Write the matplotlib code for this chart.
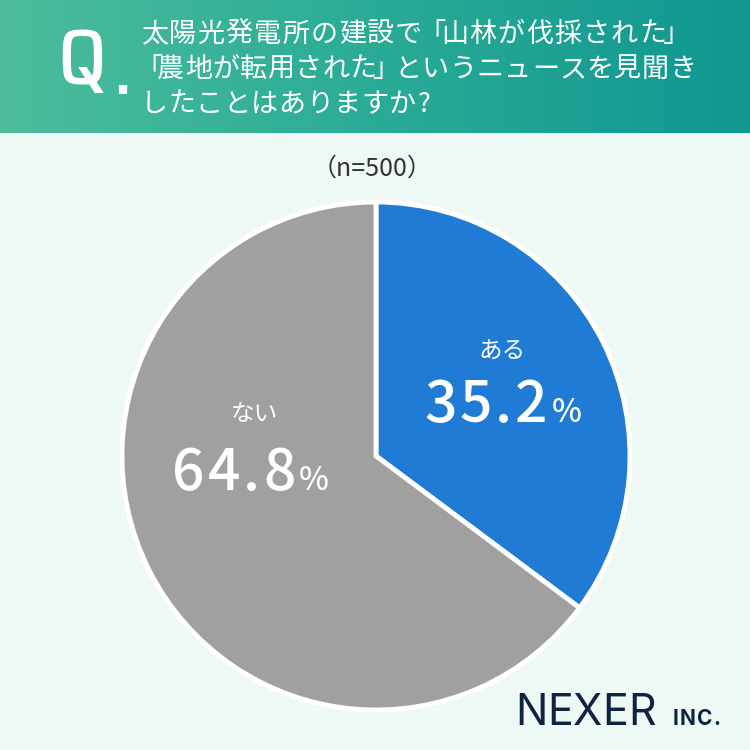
import numpy as np
import matplotlib.pyplot as plt
from matplotlib.colors import LinearSegmentedColormap

plt.rcParams['font.family'] = ['Noto Sans CJK JP', 'DejaVu Sans']

labels = ['ある', 'ない']
values = [35.2, 64.8]
colors = ['#1f7bd4', '#a0a0a0']
n_total = 500
question = ['太陽光発電所の建設で「山林が伐採された」',
            '「農地が転用された」というニュースを見聞き',
            'したことはありますか?']

W = 750
fig = plt.figure(figsize=(7.5, 7.5), dpi=100)
fig.patch.set_facecolor('#eef9f6')
renderer = fig.canvas.get_renderer()


def px(x, y):
    return x / W, 1 - y / W


def spaced(x, y, s, track, **kw):
    # draw characters one by one with extra letter spacing (pixels)
    widths = []
    for ch in s:
        t = fig.text(0, 0, ch, **kw)
        widths.append(t.get_window_extent(renderer).width)
        t.remove()
    cur = x
    for ch, w in zip(s, widths):
        fig.text(*px(cur, y), ch, ha='left', va='baseline', **kw)
        cur += w + track
    return cur - track


def cjk_line(x, y, s, pitch, **kw):
    # fixed pitch, brackets and ? take a narrower slot
    cur = x
    for ch in s:
        adv = pitch * 0.62 if ch in '「」?' else pitch
        fig.text(*px(cur + adv / 2, y), ch, ha='center', va='baseline', **kw)
        cur += adv


# header gradient
hdr = fig.add_axes([0, 1 - 133 / W, 1, 133 / W])
cmap = LinearSegmentedColormap.from_list('hdr', ['#4dbd9c', '#2aab96', '#0f9790'])
grad = np.linspace(0, 1, 256).reshape(1, -1)
hdr.imshow(grad, aspect='auto', cmap=cmap, extent=[0, 1, 0, 1])
hdr.set_xlim(0, 1)
hdr.set_ylim(0, 1)
hdr.axis('off')

fig.text(*px(57, 84), 'Q', color='white', fontsize=57,
         family=['Saira SemiCondensed', 'Roboto'], fontweight=500,
         ha='left', va='baseline')
fig.text(*px(122, 82), '.', color='white', fontsize=34, fontweight='bold',
         family='DejaVu Sans', ha='center', va='center')
pitches = [28.3, 27.5, 27.6]
for i, line in enumerate(question):
    cjk_line(140, 42 + i * 35, line, pitches[i], color='white', fontsize=19.5)

fig.text(*px(372, 169), f'（n={n_total}）', color='#333333',
         fontsize=18, ha='center', va='center')

# pie
ax = fig.add_axes([122 / W, 40 / W, 508 / W, 508 / W])
ax.pie(values, colors=colors, startangle=90, counterclock=False,
       wedgeprops=dict(edgecolor='white', linewidth=3.5))
ax.set_xlim(-1, 1)
ax.set_ylim(-1, 1)
ax.set_aspect('equal')
ax.axis('off')

# labels inside slices: (label x, label y, number left x, number baseline y)
pos = [(502, 352, 424, 422), (254, 414, 172, 490)]
numkw = dict(color='white', fontsize=41, fontweight='medium')
for lab, val, (lx, ly, vx, vy) in zip(labels, values, pos):
    fig.text(*px(lx, ly), lab, color='white', fontsize=17,
             ha='center', va='center')
    end = spaced(vx, vy, f'{val:.1f}', 3, **numkw)
    fig.text(*px(end + 4, vy), '%', color='white', fontsize=23,
             fontweight='medium', ha='left', va='baseline')

# logo
spaced(515, 725, 'NEXER', 0, color='#0d2341', fontsize=31,
       family=['Inter', 'DejaVu Sans'])
spaced(673, 725, 'INC.', 1, color='#0d2341', fontsize=15,
       fontweight='bold', family=['Inter', 'DejaVu Sans'])

fig.savefig('out.png', dpi=100, facecolor=fig.get_facecolor())
